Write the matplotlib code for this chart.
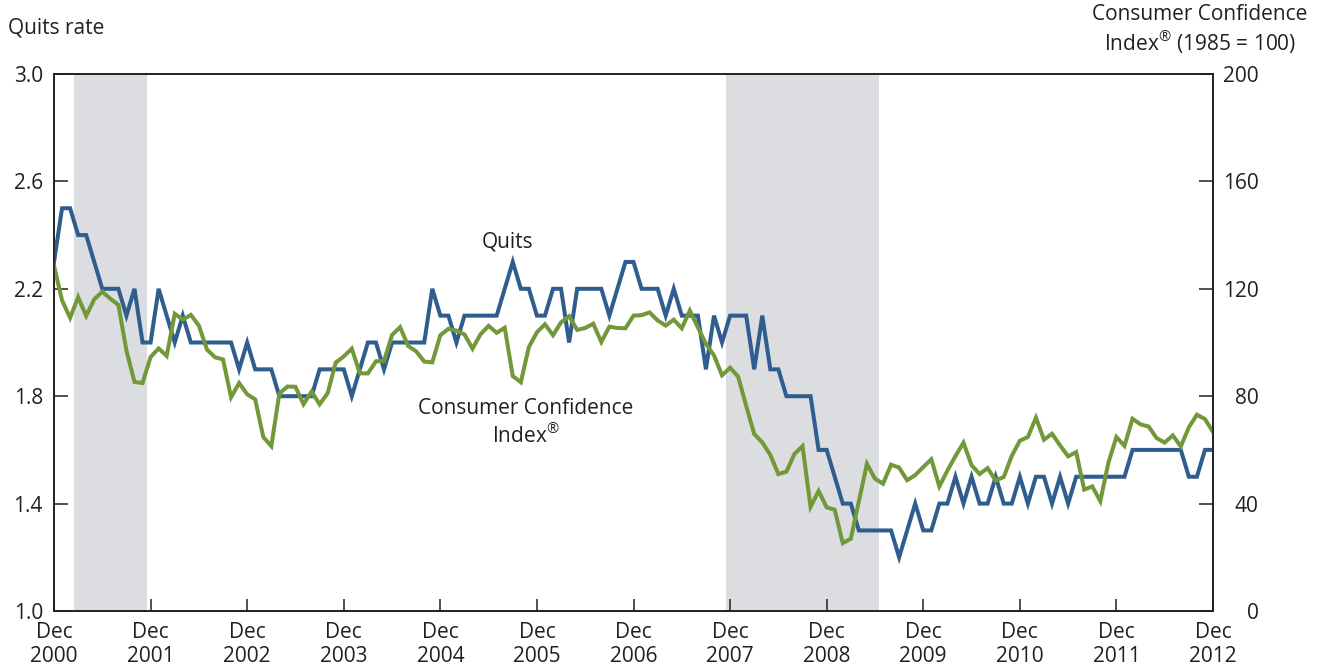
import matplotlib
matplotlib.use("Agg")
import matplotlib.pyplot as plt
import numpy as np

plt.rcParams['font.family'] = ['Open Sans', 'DejaVu Sans']

# Monthly data, Dec 2000 .. Dec 2012 (index 0 = Dec 2000)
quits = [2.3,
         2.5, 2.5, 2.4, 2.4, 2.3, 2.2, 2.2, 2.2, 2.1, 2.2, 2.0, 2.0,
         2.2, 2.1, 2.0, 2.1, 2.0, 2.0, 2.0, 2.0, 2.0, 2.0, 1.9, 2.0,
         1.9, 1.9, 1.9, 1.8, 1.8, 1.8, 1.8, 1.8, 1.9, 1.9, 1.9, 1.9,
         1.8, 1.9, 2.0, 2.0, 1.9, 2.0, 2.0, 2.0, 2.0, 2.0, 2.2, 2.1,
         2.1, 2.0, 2.1, 2.1, 2.1, 2.1, 2.1, 2.2, 2.3, 2.2, 2.2, 2.1,
         2.1, 2.2, 2.2, 2.0, 2.2, 2.2, 2.2, 2.2, 2.1, 2.2, 2.3, 2.3,
         2.2, 2.2, 2.2, 2.1, 2.2, 2.1, 2.1, 2.1, 1.9, 2.1, 2.0, 2.1,
         2.1, 2.1, 1.9, 2.1, 1.9, 1.9, 1.8, 1.8, 1.8, 1.8, 1.6, 1.6,
         1.5, 1.4, 1.4, 1.3, 1.3, 1.3, 1.3, 1.3, 1.2, 1.3, 1.4, 1.3,
         1.3, 1.4, 1.4, 1.5, 1.4, 1.5, 1.4, 1.4, 1.5, 1.4, 1.4, 1.5,
         1.4, 1.5, 1.5, 1.4, 1.5, 1.4, 1.5, 1.5, 1.5, 1.5, 1.5, 1.5,
         1.5, 1.6, 1.6, 1.6, 1.6, 1.6, 1.6, 1.6, 1.5, 1.5, 1.6, 1.6]

cci = [128.6,
       115.7, 109.2, 116.9, 109.9, 116.1, 118.9, 116.3, 114.0, 97.0, 85.3, 84.9, 94.6,
       97.8, 95.0, 110.7, 108.5, 110.3, 106.3, 97.4, 94.5, 93.7, 79.6, 84.9, 80.7,
       78.8, 64.8, 61.4, 81.0, 83.6, 83.5, 77.0, 81.7, 77.0, 81.1, 92.5, 94.8,
       97.7, 88.5, 88.5, 93.0, 93.1, 102.8, 105.7, 98.7, 96.7, 92.9, 92.6, 102.7,
       105.1, 104.4, 103.0, 97.7, 103.1, 106.2, 103.6, 105.5, 87.5, 85.2, 98.3, 103.8,
       106.8, 102.7, 107.5, 109.8, 104.7, 105.4, 107.0, 100.2, 105.9, 105.4, 105.3, 110.0,
       110.2, 111.2, 108.2, 106.3, 108.5, 105.3, 111.9, 105.6, 99.5, 95.2, 87.8, 90.6,
       87.3, 76.4, 65.9, 62.8, 58.1, 51.0, 51.9, 58.5, 61.4, 38.8, 44.7, 38.6,
       37.7, 25.3, 26.9, 40.8, 54.8, 49.3, 47.4, 54.5, 53.4, 48.7, 50.6, 53.6,
       56.5, 46.4, 52.3, 57.7, 62.7, 54.3, 51.0, 53.2, 48.6, 49.9, 57.8, 63.4,
       64.8, 72.0, 63.8, 66.0, 61.7, 57.6, 59.2, 45.2, 46.4, 40.9, 55.2, 64.8,
       61.5, 71.6, 69.5, 68.7, 64.4, 62.7, 65.4, 61.3, 68.4, 73.1, 71.5, 66.7]

years = list(range(2000, 2013))
# recessions as (first month, last month) in the same index
recessions = [(3, 11), (84, 102)]

months = np.arange(len(quits))
blue = '#2f5e8e'
green = '#72983a'
ink = '#231f20'
fs = 15

fig = plt.figure(figsize=(13.26, 6.69), dpi=100)
ax = fig.add_axes([54/1326, 58/669, (1213-54)/1326, (611-74)/669])
ax2 = ax.twinx()

for start, end in recessions:
    ax.axvspan(start - 0.5, end + 0.5, color='#dcdde0', lw=0, zorder=0)

ax.plot(months, quits, color=blue, lw=2.9, solid_joinstyle='miter', zorder=3)
ax2.plot(months, cci, color=green, lw=2.9, solid_joinstyle='miter')

ax.set_xlim(0, 144)
ax.set_ylim(1.0, 3.0)
ax2.set_ylim(0, 200)

ax.set_xticks(np.arange(0, 145, 12))
ax.set_xticklabels([f'Dec\n{y}' for y in years], linespacing=1.2)
ax.set_yticks(np.arange(1.0, 3.01, 0.4))
ax.set_yticklabels([f'{v:.1f}' for v in np.arange(1.0, 3.01, 0.4)])
ax2.set_yticks(np.arange(0, 201, 40))

for a in (ax, ax2):
    for sp in a.spines.values():
        sp.set_linewidth(1.2)
        sp.set_color(ink)

ax.tick_params(axis='x', direction='in', length=9, width=1.1, labelsize=fs, pad=8, colors=ink)
ax.tick_params(axis='y', direction='in', length=10, width=1.1, labelsize=fs, pad=8, colors=ink)
ax2.tick_params(axis='y', direction='in', length=10, width=1.1, labelsize=fs, pad=33, colors=ink)
for lab in ax2.get_yticklabels():
    lab.set_horizontalalignment('right')

ax.text(56.3, 2.375, 'Quits', ha='center', va='center', fontsize=fs, color=ink)
ax.text(58.6, 1.70, 'Consumer Confidence\nIndex$^{\\mathregular{®}}$', ha='center', va='center',
        fontsize=fs, color=ink, linespacing=1.2)

fig.text(8/1326, 1 - 28/669, 'Quits rate', ha='left', va='center', fontsize=fs, color=ink)
fig.text(1200/1326, 1 - 30/669, 'Consumer Confidence\nIndex$^{\\mathregular{®}}$ (1985 = 100)', ha='center',
         va='center', fontsize=fs, color=ink, linespacing=1.2, multialignment='center')

fig.savefig('out.png', dpi=100)
